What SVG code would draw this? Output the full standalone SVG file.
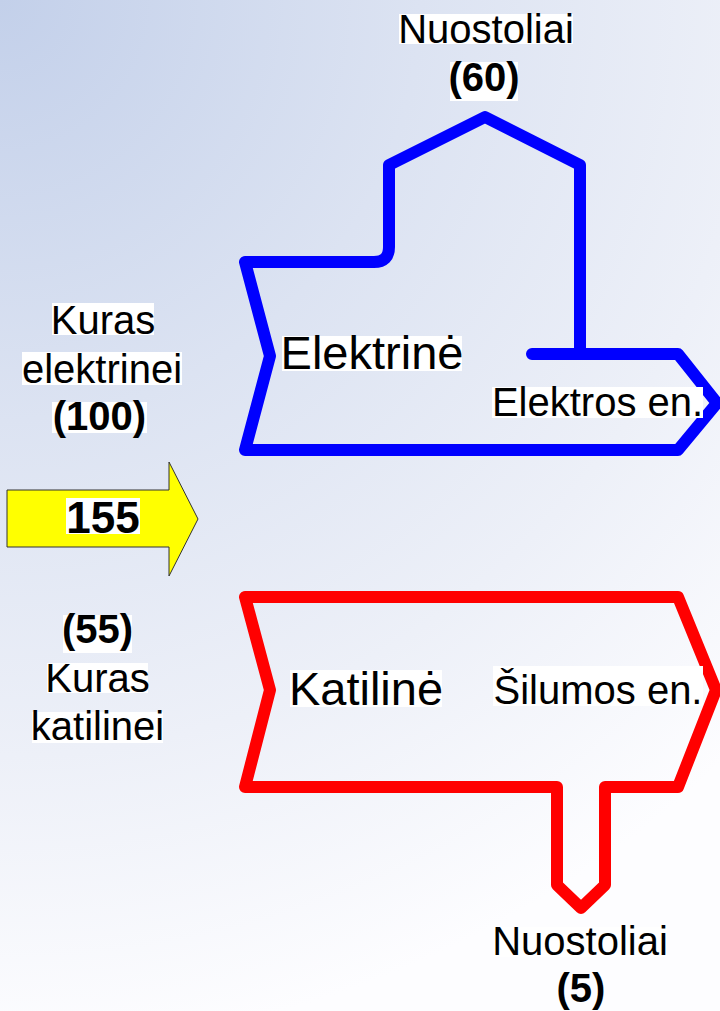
<svg xmlns="http://www.w3.org/2000/svg" width="720" height="1011" viewBox="0 0 720 1011">
  <defs>
    <radialGradient id="bg" cx="0" cy="0" r="1050" gradientUnits="userSpaceOnUse">
      <stop offset="0" stop-color="#c3d0ea"/>
      <stop offset="0.4" stop-color="#dce3f2"/>
      <stop offset="0.72" stop-color="#edf0f8"/>
      <stop offset="1" stop-color="#fdfdff"/>
    </radialGradient>
  </defs>
  <style>
    .t { font-family: "Liberation Sans", Arial, sans-serif; fill: #000; text-anchor: middle; }
    .lbl { font-size: 40px; }
    .big { font-size: 47px; }
    .b { font-weight: bold; }
    .hl { fill: #ffffff; }
    .flow { fill: none; stroke-width: 12; stroke-linejoin: round; stroke-linecap: round; }
    .blue { stroke: #0000ff; }
    .red { stroke: #ff0000; }
  </style>
  <rect x="0" y="0" width="720" height="1011" fill="url(#bg)"/>

  <g id="connectors">
    <path id="input-arrow" d="M7,490 L169,490 L169,462 L198,519 L169,576 L169,547 L7,547 Z" fill="#ffff00" stroke="#333" stroke-width="1"/>
  </g>

  <g id="elektrine">
    <path class="flow blue" d="M532,354 L678,354 L717,403 L678,450 L245,450 L270,356 L245,262 L374,262 Q389,262 389,247 L389,165 L485,117 L580,165 L580,354"/>
    <rect class="hl" x="282" y="336" width="180" height="35"/>
    <text class="t big" x="372" y="369">Elektrinė</text>
    <rect class="hl" x="492" y="387" width="211" height="31"/>
    <text class="t lbl" x="597.5" y="416">Elektros en.</text>
  </g>

  <g id="katiline">
    <path class="flow red" d="M245,597 L678,597 L716,690 L678,787 L605,787 L605,885 L581,908 L557,885 L557,787 L245,787 L270,690 Z"/>
    <rect class="hl" x="290" y="670" width="152" height="37"/>
    <text class="t big" x="366" y="705">Katilinė</text>
    <rect class="hl" x="493" y="666" width="210" height="40"/>
    <text class="t lbl" x="598" y="704">Šilumos en.</text>
  </g>

  <g id="loss-top">
    <rect class="hl" x="399" y="14" width="174" height="30"/>
    <text class="t lbl" x="486" y="43">Nuostoliai</text>
    <rect class="hl" x="450" y="62" width="68" height="39"/>
    <text class="t lbl b" x="484" y="91">(60)</text>
  </g>

  <g id="loss-bottom">
    <rect class="hl" x="493" y="927" width="174" height="30"/>
    <text class="t lbl" x="580" y="955">Nuostoliai</text>
    <text class="t lbl b" x="581" y="1002">(5)</text>
  </g>

  <g id="fuel-elektrine">
    <rect class="hl" x="52" y="303" width="102" height="32"/>
    <text class="t lbl" x="103" y="334">Kuras</text>
    <rect class="hl" x="22" y="352" width="160" height="33"/>
    <text class="t lbl" x="102" y="383">elektrinei</text>
    <rect class="hl" x="52" y="402" width="95" height="31"/>
    <text class="t lbl b" x="99.5" y="430">(100)</text>
  </g>

  <g id="fuel-total">
    <rect class="hl" x="66" y="498" width="74" height="36"/>
    <text class="t b" x="103" y="533" style="font-size:44px">155</text>
  </g>

  <g id="fuel-katiline">
    <rect class="hl" x="63" y="615" width="69" height="38"/>
    <text class="t lbl b" x="97.5" y="643">(55)</text>
    <rect class="hl" x="47" y="663" width="101" height="30"/>
    <text class="t lbl" x="97.5" y="692">Kuras</text>
    <rect class="hl" x="32" y="712" width="131" height="31"/>
    <text class="t lbl" x="97.5" y="740">katilinei</text>
  </g>
</svg>
